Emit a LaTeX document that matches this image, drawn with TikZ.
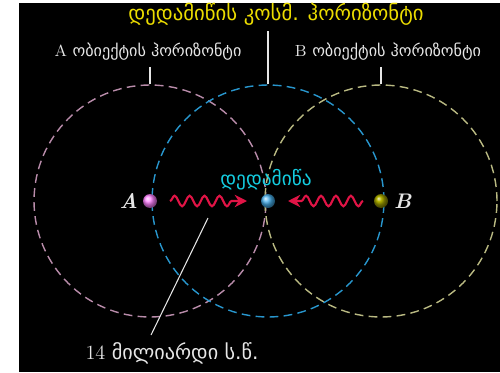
\documentclass[tikz,border=0pt]{standalone}
\usepackage{fontspec}
\newfontfamily\geo{DejaVu Sans}
\usetikzlibrary{arrows.meta,decorations.pathmorphing}

\definecolor{hzA}{RGB}{185,140,170}
\definecolor{hzE}{RGB}{40,150,205}
\definecolor{hzB}{RGB}{185,185,130}
\definecolor{wavec}{RGB}{225,20,70}
\definecolor{titlec}{RGB}{235,220,0}
\definecolor{earthc}{RGB}{20,205,225}
\definecolor{labelc}{RGB}{230,230,230}
\definecolor{earthball}{RGB}{70,175,235}

\begin{document}
\begin{tikzpicture}[x=0.02cm, y=-0.02cm,
  horizon/.style={draw, circle, dashed, dash pattern=on 5pt off 3pt,
                  line width=0.8pt, minimum size=4.64cm, inner sep=0pt},
  ball/.style={circle, minimum size=0.28cm, inner sep=0pt},
  lbl/.style={text=labelc, font=\fontsize{9.2}{11}\selectfont},
  pointer/.style={draw=labelc, line width=0.6pt},
  wave/.style={wavec, line width=1.2pt, -{Stealth[length=7pt,width=7pt]},
               decorate, decoration={snake, amplitude=3pt,
               segment length=8.5pt, post length=7pt}},
]
  \useasboundingbox (0,0) rectangle (500,372);
  \fill[white] (0,0) rectangle (500,372);
  \fill[black] (19,3) rectangle (500,372);

  % horizons
  \node[horizon, draw=hzA] (hA) at (150,201) {};
  \node[horizon, draw=hzB] (hB) at (381,201) {};
  \node[horizon, draw=hzE] (hE) at (268,201) {};

  % objects
  \node[ball, ball color=magenta!50!white] (A) at (150,201) {};
  \node[ball, ball color=olive!80!yellow]  (B) at (381,201) {};
  \node[ball, ball color=earthball]        (E) at (268,201) {};
  \node[lbl, anchor=east, font=\large\itshape\bfseries] (Alb) at (144,201) {A};
  \node[lbl, anchor=west, font=\large\itshape\bfseries] (Blb) at (388,201) {B};
  \node[text=earthc, font=\fontsize{11}{13}\selectfont\geo] (Elb) at (266,180) {დედამიწა};

  % light
  \coordinate (wA) at (170,201);
  \coordinate (wAe) at (247,201);
  \coordinate (wB) at (363,201);
  \coordinate (wBe) at (288,201);
  \draw[wave] (wA) -- (wAe);
  \draw[wave] (wB) -- (wBe);

  % labels
  \node[text=titlec, font=\fontsize{11.8}{14}\selectfont\geo] (title) at (276,14) {დედამიწის კოსმ. ჰორიზონტი};
  \node[lbl] (tA) at (148,52) {A {\geo ობიექტის ჰორიზონტი}};
  \node[lbl] (tB) at (388,52) {B {\geo ობიექტის ჰორიზონტი}};
  \node[lbl, font=\fontsize{11.5}{13}\selectfont] (age) at (172,353) {14 {\geo მილიარდი ს.წ.}};
  \draw[pointer] (title.south -| hE.north) -- (hE.north);
  \draw[pointer] (tA.south -| hA.north) -- (hA.north);
  \draw[pointer] (tB.south -| hB.north) -- (hB.north);
  \coordinate (tip) at (208,218);
  \draw[pointer] (tip) -- (151,335);
\end{tikzpicture}
\end{document}
